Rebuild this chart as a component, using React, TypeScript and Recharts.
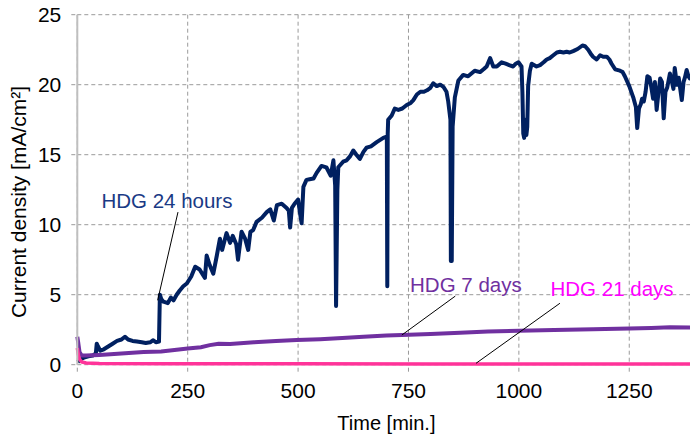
import React from "react";
import {
  LineChart,
  Line,
  XAxis,
  YAxis,
  CartesianGrid,
  ReferenceLine,
  ReferenceDot,
} from "recharts";

// HDG 24 hours
const hdg24Time = [
  1, 8, 15, 25, 35, 42, 44, 47, 52, 60, 70, 80, 90, 100, 108, 115, 125, 135, 146, 155,
  165, 172, 178, 185, 187, 190, 195, 205, 212, 218, 225, 232, 240, 248, 258, 267, 277,
  285, 289, 293, 300, 308, 316, 323, 328, 338, 346, 352, 360, 364, 372, 380, 387, 392,
  398, 406, 418, 429, 437, 445, 452, 463, 474, 479, 482, 486, 492, 500, 505, 508, 512,
  519, 526, 535, 542, 553, 564, 574, 580, 584, 586, 589, 591, 602, 610, 618, 625, 632,
  640, 648, 655, 665, 678, 693, 701, 702, 703, 704, 712, 719, 727, 736, 746, 755, 761,
  769, 777, 785, 792, 799, 806, 814, 822, 829, 836, 840, 845, 846, 848, 850, 855, 863,
  874, 885, 900, 912, 920, 927, 935, 942, 950, 961, 970, 978, 987, 993, 999, 1006, 1008,
  1010, 1012, 1015, 1017, 1019, 1021, 1025, 1029, 1040, 1048, 1056, 1063, 1070, 1078,
  1086, 1093, 1101, 1108, 1115, 1123, 1133, 1144, 1150, 1157, 1163, 1168, 1176, 1184,
  1191, 1199, 1205, 1210, 1218, 1229, 1235, 1240, 1250, 1259, 1265, 1268, 1272, 1276,
  1279, 1283, 1287, 1291, 1296, 1300, 1304, 1308, 1312, 1316, 1320, 1324, 1328, 1332,
  1336, 1342, 1346, 1350, 1353, 1358, 1362, 1365, 1369, 1373, 1376, 1380, 1384, 1387,
  1395, 1400,
];
const hdg24Current = [
  0.2, 0.4, 0.5, 0.6, 0.65, 0.8, 1.5, 1.3, 1.0, 1.1, 1.3, 1.5, 1.7, 1.8, 2.0, 1.8, 1.7,
  1.65, 1.6, 1.55, 1.6, 1.75, 1.6, 1.65, 5.0, 4.7, 4.5, 4.4, 4.8, 4.6, 5.0, 5.3, 5.6,
  5.8, 6.3, 7.0, 6.8, 6.4, 6.2, 7.8, 7.1, 6.5, 7.8, 9.0, 8.2, 9.4, 8.7, 9.2, 8.6, 7.5,
  9.5, 9.0, 8.2, 9.5, 9.6, 10.2, 10.5, 10.9, 11.1, 10.3, 11.4, 11.5, 11.2, 11.0, 9.8,
  11.2, 11.5, 11.8, 10.7, 10.1, 12.7, 13.2, 13.25, 13.3, 13.7, 14.2, 14.1, 13.5, 14.6,
  12.8, 4.2, 12.5, 14.1, 14.5, 14.6, 14.9, 15.3, 15.0, 14.7, 15.2, 15.5, 15.6, 15.9,
  16.2, 16.3, 5.6, 16.5, 17.5, 17.8, 18.3, 18.2, 18.3, 18.55, 18.7, 18.9, 19.3, 19.5,
  19.5, 19.6, 19.75, 20.1, 19.9, 20.0, 19.85, 19.5, 18.8, 17.5, 7.4, 7.4, 17.0, 19.1,
  20.3, 20.7, 20.6, 21.0, 20.9, 21.1, 21.3, 21.9, 21.3, 21.3, 21.6, 21.5, 21.4, 21.3,
  21.5, 21.6, 21.3, 19.5, 16.5, 16.2, 17.5, 16.4, 17.0, 19.9, 21.0, 21.5, 21.3, 21.4,
  21.6, 21.8, 21.9, 22.1, 22.3, 22.35, 22.3, 22.35, 22.3, 22.4, 22.55, 22.8, 22.75,
  22.5, 22.2, 22.0, 21.8, 22.1, 22.0, 22.0, 21.8, 21.5, 21.1, 21.0, 20.9, 20.6, 19.9,
  19.1, 18.4, 16.9, 18.3, 18.6, 19.0, 18.8, 19.5, 20.6, 20.5, 19.8, 19.0, 20.2, 18.2,
  19.4, 20.45, 20.2, 17.6, 19.5, 19.8, 20.8, 20.3, 19.7, 21.2, 20.0, 20.5, 19.8, 18.9,
  20.2, 20.5, 21.05, 20.6, 20.45, 20.8, 20.9,
];

// HDG 7 days
const hdg7Time = [
  0, 2, 5, 10, 20, 50, 100, 150, 190, 220, 250, 280, 300, 320, 346, 400, 450, 497, 550,
  600, 648, 700, 735, 800, 867, 930, 1000, 1080, 1168, 1250, 1300, 1342, 1400,
];
const hdg7Current = [
  2.0, 1.6, 0.9, 0.65, 0.65, 0.7, 0.8, 0.9, 0.95, 1.05, 1.15, 1.25, 1.4, 1.5, 1.48, 1.6,
  1.7, 1.76, 1.82, 1.9, 2.0, 2.08, 2.12, 2.2, 2.29, 2.37, 2.43, 2.48, 2.53, 2.58, 2.62,
  2.67, 2.65,
];

// HDG 21 days
const hdg21Time = [0, 3, 6, 10, 20, 50, 200, 500, 800, 1100, 1400];
const hdg21Current = [1.2, 0.6, 0.35, 0.2, 0.12, 0.08, 0.06, 0.06, 0.05, 0.05, 0.05];

const xTicks = [0, 250, 500, 750, 1000, 1250];
const yTicks = [0, 5, 10, 15, 20, 25];

const toRows = (t: number[], v: number[]) => t.map((time, i) => ({ time, current: v[i] }));

const hdg24Data = toRows(hdg24Time, hdg24Current);
const hdg7Data = toRows(hdg7Time, hdg7Current);
const hdg21Data = toRows(hdg21Time, hdg21Current);

const FONT = "'Liberation Sans', Arial, sans-serif";
const GRID = "#9a9a9a";

export default function App() {
  return (
    <div
      style={{
        position: "fixed",
        left: 0,
        top: 0,
        width: 690,
        height: 434,
        overflow: "hidden",
        background: "#fff",
        fontFamily: FONT,
      }}
    >
      <LineChart
        width={700}
        height={434}
        margin={{ top: 14.7, right: 4.5, bottom: 0, left: 0 }}
        style={{ fontFamily: FONT }}
      >
        <CartesianGrid stroke={GRID} strokeDasharray="4 3" strokeWidth={1} />
        <XAxis
          dataKey="time"
          type="number"
          domain={[0, 1400]}
          ticks={xTicks}
          height={69.3}
          tickSize={7}
          tickMargin={11}
          tickLine={{ stroke: GRID, strokeDasharray: "4 3" }}
          axisLine={false}
          tick={{ fill: "#000", fontSize: 21 }}
          label={{ value: "Time [min.]", position: "insideBottom", offset: 4, fill: "#000", fontSize: 20 }}
        />
        <YAxis
          type="number"
          domain={[0, 25]}
          ticks={yTicks}
          width={77.3}
          tickSize={6}
          tickMargin={10}
          tickLine={{ stroke: GRID, strokeDasharray: "4 3" }}
          axisLine={{ stroke: "#bfbfbf", strokeWidth: 2 }}
          tick={{ fill: "#000", fontSize: 21 }}
          label={{
            content: () => (
              <text
                x={26}
                y={202}
                transform="rotate(-90 26 202)"
                textAnchor="middle"
                fontSize={21}
                fill="#000"
                fontFamily={FONT}
              >
                Current density [mA/cm²]
              </text>
            ),
          }}
        />
        <Line
          data={hdg24Data}
          dataKey="current"
          type="linear"
          stroke="#002060"
          strokeWidth={4}
          strokeLinejoin="round"
          dot={false}
          isAnimationActive={false}
        />
        <Line
          data={hdg7Data}
          dataKey="current"
          type="linear"
          stroke="#7030a0"
          strokeWidth={4}
          dot={false}
          isAnimationActive={false}
        />
        <Line
          data={hdg21Data}
          dataKey="current"
          type="linear"
          stroke="#ff3399"
          strokeWidth={3.5}
          dot={false}
          isAnimationActive={false}
        />
        <ReferenceLine
          segment={[{ x: 228, y: 10.9 }, { x: 182, y: 4.6 }]}
          stroke="#000"
          strokeWidth={1}
        />
        <ReferenceLine
          segment={[{ x: 856, y: 4.9 }, { x: 735, y: 2.12 }]}
          stroke="#000"
          strokeWidth={1}
        />
        <ReferenceLine
          segment={[{ x: 1093, y: 4.39 }, { x: 903, y: 0.1 }]}
          stroke="#000"
          strokeWidth={1}
        />
        <ReferenceDot
          x={203}
          y={11.7}
          r={1}
          fill="none"
          stroke="none"
          label={{ value: "HDG 24 hours", position: "center", fill: "#1a3a85", fontSize: 20.5 }}
        />
        <ReferenceDot
          x={880}
          y={5.7}
          r={1}
          fill="none"
          stroke="none"
          label={{ value: "HDG 7 days", position: "center", fill: "#7030a0", fontSize: 20.5 }}
        />
        <ReferenceDot
          x={1211}
          y={5.45}
          r={1}
          fill="none"
          stroke="none"
          label={{ value: "HDG 21 days", position: "center", fill: "#ff00ff", fontSize: 20.5 }}
        />
      </LineChart>
    </div>
  );
}
